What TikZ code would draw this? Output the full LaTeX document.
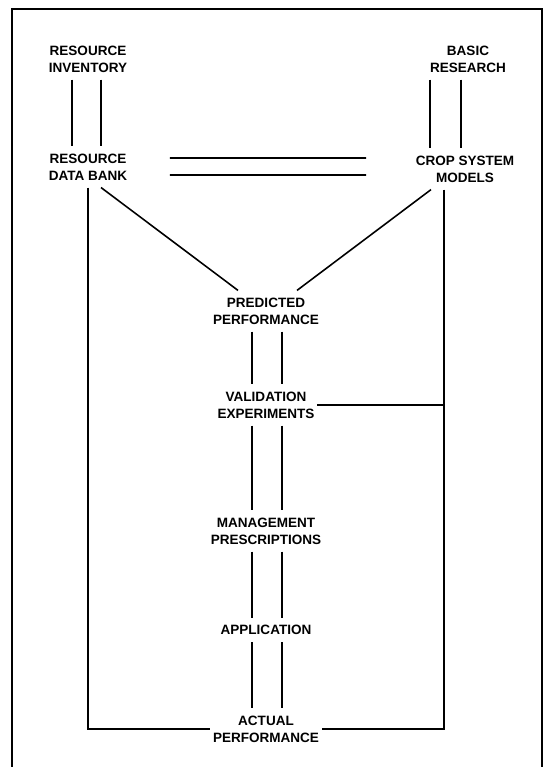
\documentclass[tikz,border=0pt]{standalone}
\usepackage{fontspec}
\setmainfont{Liberation Sans}
\usetikzlibrary{positioning}
\tikzset{stage/.style={align=center, font=\bfseries\fontsize{7.7}{9.6}\selectfont, inner xsep=1.5pt, inner ysep=4pt}, link/.style={line width=.9pt}, frame/.style={line width=1.2pt}}
\begin{document}
\begin{tikzpicture}[x=0.02cm, y=-0.02cm]
\useasboundingbox (0,0) rectangle (543,767);
\draw[frame] (12,767) -- (12,9) -- (542,9) -- (542,767);
\node[stage] (inv) at (88,59) {RESOURCE\\INVENTORY};
\node[stage] (res) at (468,59) {BASIC\\RESEARCH};
\node[stage] (bank) at (88,167) {RESOURCE\\DATA BANK};
\node[stage] (crop) at (465,169) {CROP SYSTEM\\MODELS};
\node[stage] (pred) at (266,311) {PREDICTED\\PERFORMANCE};
\node[stage] (valid) at (266,405) {VALIDATION\\EXPERIMENTS};
\node[stage] (manage) at (266,531) {MANAGEMENT\\PRESCRIPTIONS};
\node[stage] (appl) at (266,630) {APPLICATION};
\node[stage] (actual) at (266,729) {ACTUAL\\PERFORMANCE};
\coordinate (cropfoot) at ([xshift=-0.42cm]crop.south);
% upper feeds
\draw[link] ([xshift=-0.32cm]inv.south) -- ([xshift=-0.32cm]inv.south |- bank.north);
\draw[link] ([xshift=0.26cm]inv.south) -- ([xshift=0.26cm]inv.south |- bank.north);
\draw[link] ([xshift=-0.76cm]res.south) -- ([xshift=-0.76cm]res.south |- crop.north);
\draw[link] ([xshift=-0.14cm]res.south) -- ([xshift=-0.14cm]res.south |- crop.north);
\draw[link] ([shift={(1.64cm,0.18cm)}]bank.center) -- ([shift={(-1.98cm,0.22cm)}]crop.center);
\draw[link] ([shift={(1.64cm,-0.16cm)}]bank.center) -- ([shift={(-1.98cm,-0.12cm)}]crop.center);
\draw[link] ([xshift=0.26cm]bank.south) -- ([xshift=-0.56cm]pred.north);
\draw[link] ([xshift=-0.68cm]crop.south) -- ([xshift=0.62cm]pred.north);
% central chain
\foreach \a/\b in {pred/valid, valid/manage, manage/appl, appl/actual} {
  \draw[link] ([xshift=-0.28cm]\a.south) -- ([xshift=-0.28cm]\a.south |- \b.north);
  \draw[link] ([xshift=0.32cm]\a.south) -- ([xshift=0.32cm]\a.south |- \b.north);
}
% feedback loops
\draw[link] (bank.south) |- (actual.west);
\draw[link] (cropfoot) |- (actual.east);
\draw[link] (valid.east) -- (valid.east -| cropfoot);
\end{tikzpicture}
\end{document}
